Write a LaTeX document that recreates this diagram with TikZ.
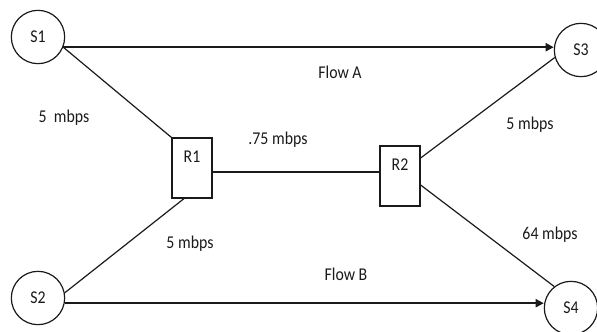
\documentclass[tikz,border=0pt]{standalone}
\usepackage{fontspec}
\setmainfont{Carlito}[FakeStretch=0.88]
\usepackage{tikz}
\usetikzlibrary{arrows.meta}
\usepackage{xcolor}
\definecolor{ink}{HTML}{1A1A1A}

\begin{document}
\begin{tikzpicture}[
    x=0.75pt, y=-0.75pt,
    every node/.style={font=\fontsize{13.5}{15}\selectfont, text=ink},
    host/.style={draw=ink, circle, line width=0.9pt, minimum size=40pt, inner sep=0pt},
    router/.style={draw=ink, rectangle, line width=0.9pt, minimum width=30pt, minimum height=45pt, inner sep=0pt, text height=9pt, text depth=17pt},
    link/.style={draw=ink, line width=0.9pt},
    flow/.style={draw=ink, line width=1.4pt, -{Triangle[length=6pt, width=6pt]}}
]
    \useasboundingbox (0, 0) rectangle (597, 332);

    % Sources and sinks
    \node[host] (S1) at (38, 37) {S1};
    \node[host] (S2) at (38, 298) {S2};
    \node[host] (S3) at (581, 50) {S3};
    \node[host] (S4) at (571, 308) {S4};

    % Routers
    \node[router] (R1) at (192, 168) {R1};
    \node[router] (R2) at (400, 176) {R2};

    % End-to-end flows
    \draw[flow] (S1.-22) -- (S1.-22 -| S3.west);
    \draw[flow] (S2.-11) -- (S2.-11 -| S4.west);

    % Access links and bottleneck
    \draw[link] (S1.-22) -- (R1.north west);
    \draw[link] (S2.11) -- ([xshift=-6pt]R1.south);
    \draw[link] ([yshift=-3pt]R1.east) -- ([yshift=-3pt]R1.east -| R2.west);
    \draw[link] ([yshift=13.5pt]R2.east) -- (S3.196);
    \draw[link] ([yshift=-6.75pt]R2.east) -- (S4.128);

    % Link rates and flow names
    \node (rateS1) at (64, 118) {5~~mbps};
    \node (rateS2) at (190, 244) {5 mbps};
    \node (rateR) at (278, 140) {.75 mbps};
    \node (rateS3) at (530, 125) {5 mbps};
    \node (rateS4) at (550, 235) {64 mbps};
    \node (flowA) at (340, 72) {Flow A};
    \node (flowB) at (346, 274) {Flow B};

\end{tikzpicture}
\end{document}
